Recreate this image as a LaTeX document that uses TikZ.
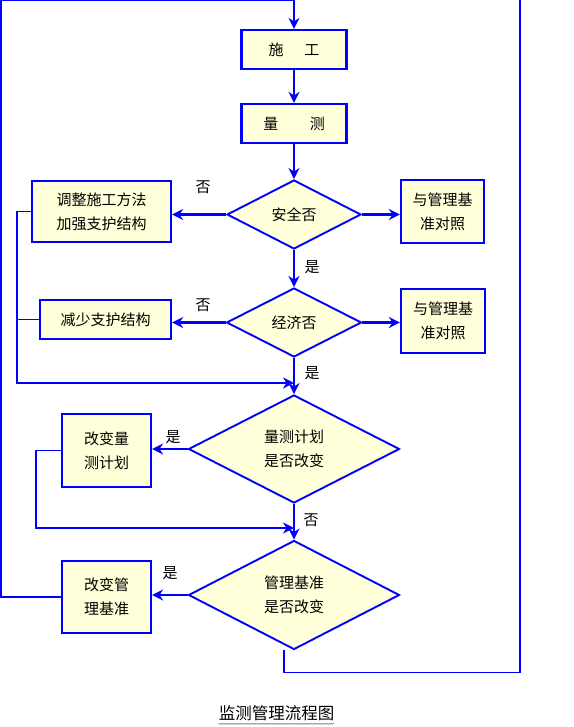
\documentclass[tikz,border=0pt]{standalone}
\usepackage{fontspec}
\newfontfamily\cjk{Noto Sans CJK SC}
\usetikzlibrary{shapes.geometric, arrows.meta, decorations.pathmorphing}
\definecolor{boxfill}{RGB}{255,255,218}
\definecolor{lineblue}{RGB}{0,0,255}

\begin{document}
\begin{tikzpicture}[x=1pt, y=-1pt, font=\cjk\fontsize{15}{24}\selectfont,
  >={Stealth[length=11pt, width=11pt, inset=3.5pt]},
  flow/.style={draw=lineblue, line width=2.2pt, ->},
  back/.style={draw=lineblue, line width=1.3pt},
  box/.style={draw=lineblue, line width=2.2pt, fill=boxfill, align=center, inner sep=0pt},
  judge/.style={diamond, draw=lineblue, line width=1.9pt, fill=boxfill, align=center, inner sep=0pt},
  tag/.style={inner sep=0pt}]
  \useasboundingbox (0,0) rectangle (573,727);
  % 主线
  \node[box, minimum width=105pt, minimum height=39pt] (sg) at (294,49.5) {施\hspace{1.4em}工};
  \node[box, minimum width=105pt, minimum height=39pt] (lc) at (294,123.5) {量\hspace{2.1em}测};
  \node[judge, minimum width=134pt, minimum height=69pt] (aq) at (294,214.5) {安全否};
  \node[judge, minimum width=135pt, minimum height=69pt] (jj) at (294,322.5) {经济否};
  \node[judge, minimum width=211pt, minimum height=108pt] (jh) at (294,449) {量测计划\\是否改变};
  \node[judge, minimum width=211pt, minimum height=109pt] (gl) at (294,595) {管理基准\\是否改变};
  % 两侧的框
  \node[box, minimum width=139pt, minimum height=61pt] (tz) at (101.5,211.5) {调整施工方法\\加强支护结构};
  \node[box, minimum width=131pt, minimum height=39pt] (js) at (105.5,319.5) {减少支护结构};
  \node[box, minimum width=83pt, minimum height=63pt] (dz1) at (442.5,211.5) {与管理基\\准对照};
  \node[box, minimum width=84pt, minimum height=64pt] (dz2) at (443,321) {与管理基\\准对照};
  \node[box, minimum width=89pt, minimum height=73pt] (gbjh) at (106.5,450.5) {改变量\\测计划};
  \node[box, minimum width=89pt, minimum height=72pt] (gbgl) at (106.5,597) {改变管\\理基准};
  % 是/否
  \node[tag] (n1) at (203,187) {否};
  \node[tag] (y1) at (312,267) {是};
  \node[tag] (n2) at (203,305) {否};
  \node[tag] (y2) at (312,373) {是};
  \node[tag] (y3) at (173,437) {是};
  \node[tag] (n3) at (311,520) {否};
  \node[tag] (y4) at (170,573) {是};
  \coordinate (m1) at (294,383);
  \coordinate (m2) at (294,528);
  \coordinate (L1) at (17,383);
  \draw[flow] (sg) -- (lc);
  \draw[flow] (lc) -- (aq);
  \draw[flow] (aq.west) -- (aq.west -| tz.east);
  \draw[flow] (aq.east) -- (aq.east -| dz1.west);
  \draw[flow] (aq) -- (jj);
  \draw[flow] (jj.west) -- (jj.west -| js.east);
  \draw[flow] (jj.east) -- (jj.east -| dz2.west);
  \draw[flow] (jj) -- (jh);
  \draw[flow] (jh.west) -- (jh.west -| gbjh.east);
  \draw[flow] (jh) -- (gl);
  \draw[flow] (gl.west) -- (gl.west -| gbgl.east);
  % 反馈
  \draw[flow, line width=1.8pt] (tz.west) -| (L1) -- (m1);
  \draw[back, line width=1.8pt] (js.west) -- (js.west -| L1);
  \draw[flow, line width=1.7pt] (gbjh.west) -| (36,528) -- (m2);
  \draw[back, ->] (gbgl.west) -- (1,597) -- (1,0.7) -| (sg.north);
  \draw[back] ([xshift=-10pt]gl.south) -- ++(0,22) -| (520,0);
  % 图名
  \node[inner sep=0pt, font=\cjk\fontsize{16.5}{18}\selectfont] (cap) at (276.5,713) {监测管理流程图};
  \draw[gray, line width=0.5pt, decorate, decoration={snake, amplitude=0.6pt, segment length=2pt}]
    ([yshift=-3pt]cap.south west) -- ([yshift=-3pt]cap.south east);
\end{tikzpicture}
\end{document}
